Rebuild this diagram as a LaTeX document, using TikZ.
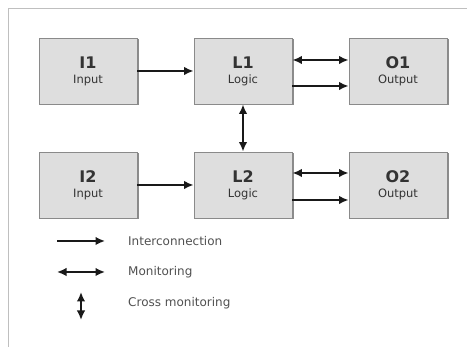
\documentclass[tikz,border=0pt]{standalone}
\usepackage{fontspec}
\setmainfont{DejaVu Sans}
\usetikzlibrary{arrows.meta}
\usetikzlibrary{shapes}
\usetikzlibrary{shadows}

\definecolor{boxfill}{HTML}{DEDEDE}
\definecolor{boxline}{HTML}{8A8A8A}
\definecolor{txtgray}{HTML}{333333}
\definecolor{legendgray}{HTML}{505050}

\begin{document}
\begin{tikzpicture}[x = 1pt, y = -1pt]
\tikzstyle{blockStyle} = [shape = rectangle, minimum width = 98pt, minimum height = 66pt, inner sep = 0pt, draw = boxline, line width = 0.9pt, fill = boxfill, align = center, text = txtgray, drop shadow = {shadow xshift = 1.5pt, shadow yshift = -1.5pt, fill = black!45, opacity = 1}]
\tikzstyle{wireStyle} = [line width = 1.7pt, >={Latex[length = 9.5pt, width = 8.5pt]}, black!90]
\tikzstyle{legendStyle} = [anchor = west, inner sep = 0pt, text = legendgray, font = \fontsize{12}{14}\selectfont]
\newcommand{\blocktext}[2]{{\fontsize{16}{17}\selectfont\bfseries #1}\\[3pt]{\fontsize{11.5}{13}\selectfont #2}}
\useasboundingbox (0,0) rectangle (467,347);
\draw[black!25, line width = 1pt] (467,9) -- (8,9) -- (8,347);
\node[blockStyle] (i1) at (88,71) {\blocktext{I1}{Input}};
\node[blockStyle] (l1) at (243,71) {\blocktext{L1}{Logic}};
\node[blockStyle] (o1) at (398,71) {\blocktext{O1}{Output}};
\node[blockStyle] (i2) at (88,185) {\blocktext{I2}{Input}};
\node[blockStyle] (l2) at (243,185) {\blocktext{L2}{Logic}};
\node[blockStyle] (o2) at (398,185) {\blocktext{O2}{Output}};
\draw[wireStyle, ->] (i1) -- (l1);
\draw[wireStyle, <->] ([yshift = 11pt]l1.east) -- ([yshift = 11pt]o1.west);
\draw[wireStyle, ->] ([yshift = -15pt]l1.east) -- ([yshift = -15pt]o1.west);
\draw[wireStyle, <->] (l1) -- (l2);
\draw[wireStyle, ->] (i2) -- (l2);
\draw[wireStyle, <->] ([yshift = 12pt]l2.east) -- ([yshift = 12pt]o2.west);
\draw[wireStyle, ->] ([yshift = -15pt]l2.east) -- ([yshift = -15pt]o2.west);
% legend
\coordinate (a1) at (57,241);
\coordinate (b1) at (105,241);
\coordinate (a2) at (57,272);
\coordinate (b2) at (105,272);
\coordinate (a3) at (81,292);
\coordinate (b3) at (81,320);
\draw[wireStyle, ->] (a1) -- (b1);
\draw[wireStyle, <->] (a2) -- (b2);
\draw[wireStyle, <->] (a3) -- (b3);
\node[legendStyle] (t1) at (128,241) {Interconnection};
\node[legendStyle] (t2) at (128,272) {Monitoring};
\node[legendStyle] (t3) at (128,303) {Cross monitoring};
\end{tikzpicture}
\end{document}
